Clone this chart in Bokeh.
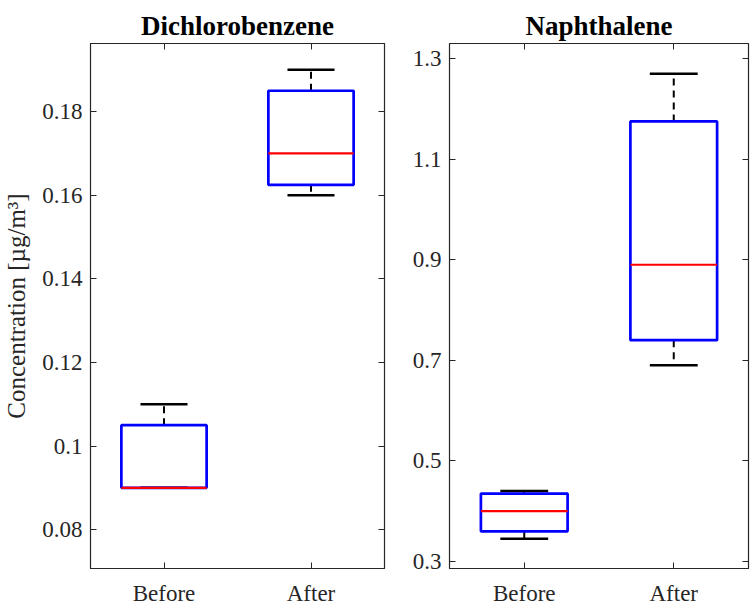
from bokeh.plotting import figure
from bokeh.layouts import row
from bokeh.models import Range1d, FixedTicker, LinearAxis, ColumnDataSource
from bokeh.embed import file_html
from bokeh.resources import INLINE

groups = ["Before", "After"]

dcb_min = [0.09, 0.16]
dcb_q1 = [0.09, 0.1625]
dcb_med = [0.09, 0.17]
dcb_q3 = [0.105, 0.185]
dcb_max = [0.11, 0.19]
dcb_ticks = [0.08, 0.1, 0.12, 0.14, 0.16, 0.18]
dcb_tick_labels = ["0.08", "0.1", "0.12", "0.14", "0.16", "0.18"]

nap_min = [0.345, 0.69]
nap_q1 = [0.36, 0.74]
nap_med = [0.40, 0.89]
nap_q3 = [0.435, 1.175]
nap_max = [0.44, 1.27]
nap_ticks = [0.3, 0.5, 0.7, 0.9, 1.1, 1.3]
nap_tick_labels = ["0.3", "0.5", "0.7", "0.9", "1.1", "1.3"]

FONT = "Liberation Serif"
AX = "#262626"
BOX_HALF = 0.29
CAP_HALF = 0.16


def style_axis(ax):
    ax.major_tick_in = 6
    ax.major_tick_out = 0
    ax.minor_tick_in = 0
    ax.minor_tick_out = 0
    ax.axis_line_color = AX
    ax.major_tick_line_color = AX
    ax.major_label_text_font = FONT
    ax.major_label_text_color = AX
    ax.major_label_text_font_size = "23px"


def make_panel(title, mins, q1, med, q3, maxs, ticks, tick_labels, yr,
               frame_w, border_l, border_r, ylabel=None):
    xs = list(range(1, len(groups) + 1))
    p = figure(x_range=Range1d(0.5, len(groups) + 0.5), y_range=Range1d(*yr),
               frame_width=frame_w, frame_height=525,
               min_border_left=border_l, min_border_right=border_r,
               min_border_top=43, min_border_bottom=40,
               output_backend="svg", toolbar_location=None,
               title=title, x_axis_location=None, y_axis_location=None)
    p.title.text_font = FONT
    p.title.text_font_size = "27px"
    p.title.text_font_style = "bold"
    p.title.text_color = "black"
    p.title.align = "center"
    p.title.vertical_align = "top"
    p.title.standoff = 2
    p.grid.visible = False
    p.outline_line_color = AX
    p.outline_line_width = 1.2
    p.background_fill_color = "white"
    p.border_fill_color = "white"

    src = ColumnDataSource(dict(
        x=xs,
        bl=[x - BOX_HALF for x in xs], br=[x + BOX_HALF for x in xs],
        cl=[x - CAP_HALF for x in xs], cr=[x + CAP_HALF for x in xs],
        lo=mins, q1=q1, med=med, q3=q3, hi=maxs))

    # whiskers (dashed)
    p.segment(x0="x", x1="x", y0="q3", y1="hi", source=src,
              line_color="black", line_width=2, line_dash="7 5")
    p.segment(x0="x", x1="x", y0="q1", y1="lo", source=src,
              line_color="black", line_width=2, line_dash="7 5")
    # caps
    p.segment(x0="cl", x1="cr", y0="hi", y1="hi", source=src,
              line_color="black", line_width=2.5)
    p.segment(x0="cl", x1="cr", y0="lo", y1="lo", source=src,
              line_color="black", line_width=2.5)
    # boxes
    p.quad(left="bl", right="br", bottom="q1", top="q3", source=src,
           fill_color=None, line_color="#0000FF", line_width=2.7)
    # medians
    p.segment(x0="bl", x1="br", y0="med", y1="med", source=src,
              line_color="#FF0000", line_width=2.2)

    overrides = {t: l for t, l in zip(ticks, tick_labels)}

    yl = LinearAxis(ticker=FixedTicker(ticks=ticks), major_label_overrides=overrides)
    style_axis(yl)
    yl.major_label_standoff = 8
    if ylabel:
        yl.axis_label = ylabel
        yl.axis_label_text_font = FONT
        yl.axis_label_text_font_size = "25px"
        yl.axis_label_text_font_style = "normal"
        yl.axis_label_text_color = AX
        yl.axis_label_standoff = 9
    p.add_layout(yl, "left")

    yr_ax = LinearAxis(ticker=FixedTicker(ticks=ticks),
                       major_label_overrides={t: "" for t in ticks})
    style_axis(yr_ax)
    yr_ax.major_label_standoff = 0
    p.add_layout(yr_ax, "right")

    xb = LinearAxis(ticker=FixedTicker(ticks=xs),
                    major_label_overrides={x: g for x, g in zip(xs, groups)})
    style_axis(xb)
    xb.major_label_standoff = 12
    p.add_layout(xb, "below")

    xt = LinearAxis(ticker=FixedTicker(ticks=xs),
                    major_label_overrides={x: "" for x in xs})
    style_axis(xt)
    xt.major_label_standoff = 0
    p.add_layout(xt, "above")
    return p


p1 = make_panel("Dichlorobenzene", dcb_min, dcb_q1, dcb_med, dcb_q3, dcb_max,
                dcb_ticks, dcb_tick_labels, (0.0707, 0.1963), 294, 90, 16,
                ylabel="Concentration [µg/m³]")
p2 = make_panel("Naphthalene", nap_min, nap_q1, nap_med, nap_q3, nap_max,
                nap_ticks, nap_tick_labels, (0.286, 1.33), 299, 49, 2)

layout = row(p1, p2)
open("out.html", "w").write(file_html(layout, INLINE))
